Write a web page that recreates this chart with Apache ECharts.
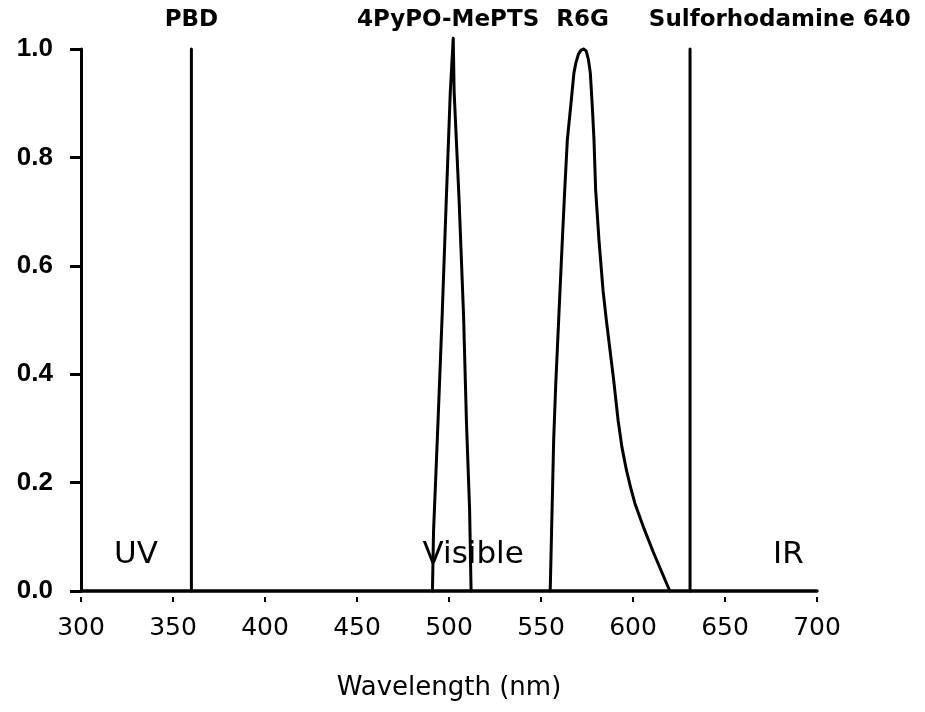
<!DOCTYPE html>
<html>
<head>
<meta charset="utf-8">
<script src="https://cdn.jsdelivr.net/npm/echarts@6/dist/echarts.min.js"></script>
<style>
  html, body { margin: 0; padding: 0; background: #fff; }
  #chart { width: 925px; height: 712px; }
</style>
</head>
<body>
<div id="chart"></div>
<script>
// Emission profiles of laser dyes versus wavelength (nm), normalised intensity.
const pbd = [[360, 0], [360, 1.0]];
const pypo = [
  [491.0, 0], [491.6, 0.11], [494.0, 0.31], [496.3, 0.51], [498.5, 0.72],
  [500.7, 0.92], [502.3, 1.02], [502.8, 0.92], [505.5, 0.72], [507.9, 0.51],
  [509.5, 0.31], [511.2, 0.15], [512.0, 0]
];
const r6g = [
  [555.0, 0], [556.9, 0.28], [558.0, 0.38], [559.6, 0.50], [561.6, 0.648],
  [562.9, 0.74], [564.3, 0.832], [566.1, 0.893], [567.9, 0.956], [569.0, 0.975],
  [570.3, 0.99], [571.8, 0.998], [573.3, 1.0], [574.6, 0.996], [575.8, 0.98],
  [576.8, 0.956], [577.9, 0.893], [578.8, 0.832], [579.7, 0.74], [581.5, 0.648],
  [583.7, 0.555], [585.5, 0.50], [589.5, 0.389], [591.9, 0.315], [594.0, 0.265],
  [596.5, 0.222], [598.8, 0.19], [601.0, 0.162], [606.0, 0.115], [611.0, 0.072],
  [615.5, 0.036], [620.0, 0]
];
const sulforhodamine = [[631, 0], [631, 1.0]];

const dyeNames = ['PBD', '4PyPO-MePTS', 'R6G', 'Sulforhodamine 640'];
const regionNames = ['UV', 'Visible', 'IR'];
const xTicks = [300, 350, 400, 450, 500, 550, 600, 650, 700];
const yTicks = [0.0, 0.2, 0.4, 0.6, 0.8, 1.0];

// Layout: where the text annotations sit on the data scale
const dyeLabelX = [360, 499.5, 572.6, 608.6];
const dyeLabelAlign = ['center', 'center', 'center', 'left'];
const dyeLabelY = 1.054;
const regionLabelX = [318, 485.6, 676.1];
const regionLabelY = 0.066;

const lineStyle = { color: '#000', width: 3, cap: 'round', join: 'round' };
const curve = (data) => ({
  type: 'line', data, showSymbol: false, symbol: 'none', smooth: false,
  lineStyle, clip: false, silent: true
});
const plainText = { color: '#000', textBorderWidth: 0, textShadowBlur: 0, opacity: 1 };

const chart = echarts.init(document.getElementById('chart'));
chart.setOption({
  animation: false,
  backgroundColor: '#fff',
  grid: { left: 81, right: 108, top: 49, bottom: 121 },
  xAxis: [{
    type: 'value',
    min: xTicks[0], max: xTicks[xTicks.length - 1], interval: 50,
    name: 'Wavelength (nm)', nameLocation: 'middle', nameGap: 84,
    nameTextStyle: { fontFamily: 'DejaVu Sans', fontSize: 26, color: '#000' },
    axisLine: { show: true, lineStyle: { color: '#000', width: 3.5 } },
    axisTick: { show: false },
    splitLine: { show: false },
    axisLabel: { margin: 25, fontFamily: 'DejaVu Sans', fontSize: 25, color: '#000' }
  }, {
    // tick marks drawn slightly below the axis line
    type: 'value', position: 'bottom', offset: 6,
    min: xTicks[0], max: xTicks[xTicks.length - 1], interval: 50,
    axisLine: { show: false },
    axisTick: { show: true, length: 5, lineStyle: { color: '#000', width: 2 } },
    axisLabel: { show: false },
    splitLine: { show: false }
  }],
  yAxis: {
    type: 'value', min: yTicks[0], max: yTicks[yTicks.length - 1], interval: 0.2,
    axisLine: { show: true, lineStyle: { color: '#000', width: 3 } },
    axisTick: { show: true, inside: false, length: 11, lineStyle: { color: '#000', width: 3 } },
    splitLine: { show: false },
    axisLabel: {
      margin: 28, fontFamily: 'Liberation Sans', fontWeight: 'bold', fontSize: 26, color: '#000',
      formatter: (v) => v.toFixed(1)
    }
  },
  series: [
    curve(pbd),
    curve(pypo),
    curve(r6g),
    curve(sulforhodamine),
    {
      type: 'scatter', symbolSize: 0, clip: false, silent: true,
      itemStyle: { color: '#000' },
      data: dyeNames.map((n, i) => ({
        name: n, value: [dyeLabelX[i], dyeLabelY],
        label: { align: dyeLabelAlign[i] }
      })),
      label: Object.assign({
        show: true, position: 'inside', formatter: '{b}', verticalAlign: 'middle',
        fontFamily: 'DejaVu Sans', fontWeight: 'bold', fontSize: 23
      }, plainText)
    },
    {
      type: 'scatter', symbolSize: 0, clip: false, silent: true,
      itemStyle: { color: '#000' },
      data: regionNames.map((n, i) => ({ name: n, value: [regionLabelX[i], regionLabelY] })),
      label: Object.assign({
        show: true, position: 'inside', formatter: '{b}', align: 'left', verticalAlign: 'middle',
        fontFamily: 'DejaVu Sans', fontSize: 31
      }, plainText)
    }
  ]
});
</script>
</body>
</html>
